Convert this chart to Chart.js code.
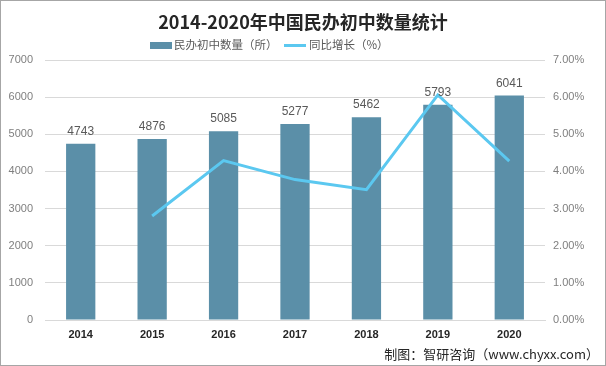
<!DOCTYPE html>
<html><head><meta charset="utf-8">
<script src="https://cdn.jsdelivr.net/npm/chart.js@4/dist/chart.umd.min.js"></script>
<style>html,body{margin:0;padding:0;background:#fff;}canvas{display:block;}</style>
</head><body>
<canvas id="c" width="606" height="366"></canvas>
<script>
const years = ['2014','2015','2016','2017','2018','2019','2020'];
const schoolCounts = [4743, 4876, 5085, 5277, 5462, 5793, 6041];
const growthPct = [null, 2.80, 4.29, 3.78, 3.51, 6.06, 4.28];
const leftTicks = [0,1000,2000,3000,4000,5000,6000,7000];
const rightTicks = [0,1,2,3,4,5,6,7];
const titleText = '2014-2020年中国民办初中数量统计';
const barLabel = '民办初中数量（所）';
const lineLabel = '同比增长（%）';
const footerText = '制图：智研咨询（www.chyxx.com）';

const BAR = '#5b8fa8', LINE = '#5bc8f0';
const CJK = '"Noto Sans CJK SC","Liberation Sans",sans-serif';

const deco = {
  id: 'deco',
  afterDatasetsDraw(chart) {
    const ctx = chart.ctx;
    ctx.save();
    const meta = chart.getDatasetMeta(0);
    ctx.font = '12px "Liberation Sans",sans-serif';
    ctx.fillStyle = '#595959';
    ctx.textAlign = 'center';
    ctx.textBaseline = 'bottom';
    meta.data.forEach((el, i) => {
      ctx.fillText(String(schoolCounts[i]), el.x, el.y - 6);
    });
    ctx.font = 'bold 18px ' + CJK;
    ctx.fillStyle = '#262626';
    ctx.textBaseline = 'middle';
    ctx.fillText(titleText, 303, 22);
    ctx.font = '11.5px ' + CJK;
    ctx.textAlign = 'left';
    ctx.fillStyle = BAR;
    ctx.fillRect(150, 42, 22, 7);
    ctx.fillStyle = '#595959';
    ctx.fillText(barLabel, 174, 45);
    ctx.strokeStyle = LINE;
    ctx.lineWidth = 3;
    ctx.beginPath(); ctx.moveTo(284, 45.5); ctx.lineTo(306, 45.5); ctx.stroke();
    ctx.fillText(lineLabel, 309, 45);
    ctx.font = '13px ' + CJK;
    ctx.fillStyle = '#262626';
    ctx.textAlign = 'right';
    ctx.fillText(footerText, 599, 354);
    ctx.strokeStyle = '#a6a6a6';
    ctx.lineWidth = 1;
    ctx.strokeRect(0.5, 0.5, 605, 365);
    ctx.restore();
  }
};

new Chart(document.getElementById('c'), {
  type: 'bar',
  data: {
    labels: years,
    datasets: [
      { type: 'bar', label: barLabel, data: schoolCounts, backgroundColor: BAR,
        yAxisID: 'y', order: 2, categoryPercentage: 1, barPercentage: 0.41 },
      { type: 'line', label: lineLabel, data: growthPct, borderColor: LINE, backgroundColor: LINE,
        borderWidth: 3, pointRadius: 0, tension: 0, yAxisID: 'y1', order: 1, spanGaps: false }
    ]
  },
  options: {
    responsive: false,
    animation: false,
    layout: { padding: { top: 60, bottom: 16, left: 0, right: 0 } },
    plugins: { legend: { display: false }, title: { display: false }, tooltip: { enabled: false } },
    scales: {
      x: {
        grid: { display: false, drawTicks: false },
        border: { display: true, color: '#d9d9d9' },
        ticks: { padding: 8, color: '#262626', font: { family: '"Liberation Sans",sans-serif', size: 11, weight: 'bold' } },
        afterFit(s) { s.height = 30; }
      },
      y: {
        position: 'left', min: 0, max: 7000,
        afterBuildTicks(s) { s.ticks = leftTicks.map(v => ({ value: v })); },
        grid: { color: '#d9d9d9', drawTicks: false },
        border: { display: false },
        ticks: { padding: 12, color: '#7f7f7f', font: { family: '"Liberation Sans",sans-serif', size: 11 },
          callback: v => String(v) },
        afterFit(s) { s.width = 45; }
      },
      y1: {
        position: 'right', min: 0, max: 7,
        afterBuildTicks(s) { s.ticks = rightTicks.map(v => ({ value: v })); },
        grid: { display: false, drawTicks: false },
        border: { display: false },
        ticks: { padding: 8, color: '#7f7f7f', font: { family: '"Liberation Sans",sans-serif', size: 11 },
          callback: v => v.toFixed(2) + '%' },
        afterFit(s) { s.width = 61; }
      }
    }
  },
  plugins: [deco]
});
</script>
</body></html>
